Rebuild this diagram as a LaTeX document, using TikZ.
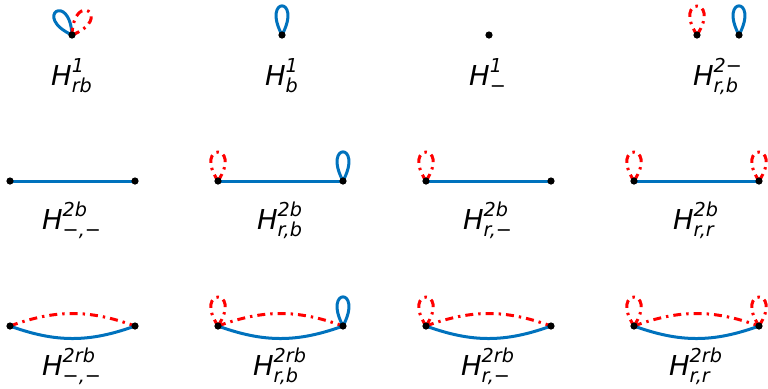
\documentclass[tikz,border=0pt]{standalone}
\usepackage{amsmath}
\usepackage{fontspec}
\setmainfont{DejaVu Sans}
\usetikzlibrary{backgrounds}
\definecolor{mblue}{RGB}{0,114,189}
\newcommand{\hlab}[2]{$\textit{H}^{\textit{#1}}_{\textit{#2}}$}

\begin{document}
\begin{tikzpicture}[x=0.5pt, y=0.5pt,
                vtx/.style={circle, fill=black, inner sep=0pt, minimum size=3.6pt},
                bedge/.style={draw=mblue, line width=1.5pt},
                redge/.style={draw=red, line width=1.5pt, dash pattern=on 4pt off 2.5pt on 1.2pt off 2.5pt},
                bloop/.style={bedge, looseness=1, min distance=22pt},
                rloop/.style={redge, looseness=1, min distance=23pt},
                lab/.style={anchor=base, font=\fontsize{13.7}{16}\selectfont},
            ]
            \useasboundingbox (0,0) rectangle (768,-388);

            % row 1: one or two vertices
            \node[vtx] (p1)  at (72,-35)  {};
            \node[vtx] (p2)  at (282,-35) {};
            \node[vtx] (p3)  at (489,-35) {};
            \node[vtx] (p4a) at (697,-35) {};
            \node[vtx] (p4b) at (739,-35) {};
            \node[lab] (l1) at (72,-85)  {\hlab{1}{rb}};
            \node[lab] (l2) at (282,-85) {\hlab{1}{b}};
            \node[lab] (l3) at (488,-85) {\hlab{1}{−}};
            \node[lab] (l4) at (718,-85) {\hlab{2−}{r,b}};

            % row 2: one blue edge
            \node[vtx] (q1a) at (10,-181)  {};
            \node[vtx] (q1b) at (135,-181) {};
            \node[vtx] (q2a) at (218,-181) {};
            \node[vtx] (q2b) at (343,-181) {};
            \node[vtx] (q3a) at (426,-181) {};
            \node[vtx] (q3b) at (551,-181) {};
            \node[vtx] (q4a) at (634,-181) {};
            \node[vtx] (q4b) at (759,-181) {};
            \node[lab] (m1) at (72,-229)  {\hlab{2b}{−,−}};
            \node[lab] (m2) at (280,-229) {\hlab{2b}{r,b}};
            \node[lab] (m3) at (488,-229) {\hlab{2b}{r,−}};
            \node[lab] (m4) at (696,-229) {\hlab{2b}{r,r}};

            % row 3: blue and red edge
            \node[vtx] (s1a) at (10,-326)  {};
            \node[vtx] (s1b) at (135,-326) {};
            \node[vtx] (s2a) at (218,-326) {};
            \node[vtx] (s2b) at (343,-326) {};
            \node[vtx] (s3a) at (426,-326) {};
            \node[vtx] (s3b) at (551,-326) {};
            \node[vtx] (s4a) at (634,-326) {};
            \node[vtx] (s4b) at (759,-326) {};
            \node[lab] (n1) at (72,-375)  {\hlab{2rb}{−,−}};
            \node[lab] (n2) at (280,-375) {\hlab{2rb}{r,b}};
            \node[lab] (n3) at (488,-375) {\hlab{2rb}{r,−}};
            \node[lab] (n4) at (696,-375) {\hlab{2rb}{r,r}};

            \begin{scope}[on background layer]
                \draw[bloop] (p1.center) to[out=155, in=93] (p1.center);
                \draw[rloop] (p1.center) to[out=22, in=88] (p1.center);
                \draw[bloop] (p2.center) to[out=118, in=62] (p2.center);
                \draw[rloop] (p4a.center) to[out=57, in=123] (p4a.center);
                \draw[bloop] (p4b.center) to[out=118, in=62] (p4b.center);

                \draw[bedge] (q1a.center) -- (q1b.center);
                \draw[bedge] (q2a.center) -- (q2b.center);
                \draw[bedge] (q3a.center) -- (q3b.center);
                \draw[bedge] (q4a.center) -- (q4b.center);
                \draw[rloop] (q2a.center) to[out=57, in=123] (q2a.center);
                \draw[bloop] (q2b.center) to[out=118, in=62] (q2b.center);
                \draw[rloop] (q3a.center) to[out=57, in=123] (q3a.center);
                \draw[rloop] (q4a.center) to[out=57, in=123] (q4a.center);
                \draw[rloop] (q4b.center) to[out=57, in=123] (q4b.center);

                \draw[redge] (s1a.center) to[bend left=20] (s1b.center);
                \draw[bedge] (s1a.center) to[bend right=20] (s1b.center);
                \draw[redge] (s2a.center) to[bend left=20] (s2b.center);
                \draw[bedge] (s2a.center) to[bend right=20] (s2b.center);
                \draw[redge] (s3a.center) to[bend left=20] (s3b.center);
                \draw[bedge] (s3a.center) to[bend right=20] (s3b.center);
                \draw[redge] (s4a.center) to[bend left=20] (s4b.center);
                \draw[bedge] (s4a.center) to[bend right=20] (s4b.center);
                \draw[rloop] (s2a.center) to[out=57, in=123] (s2a.center);
                \draw[bloop] (s2b.center) to[out=118, in=62] (s2b.center);
                \draw[rloop] (s3a.center) to[out=57, in=123] (s3a.center);
                \draw[rloop] (s4a.center) to[out=57, in=123] (s4a.center);
                \draw[rloop] (s4b.center) to[out=57, in=123] (s4b.center);
            \end{scope}
        \end{tikzpicture}
\end{document}
